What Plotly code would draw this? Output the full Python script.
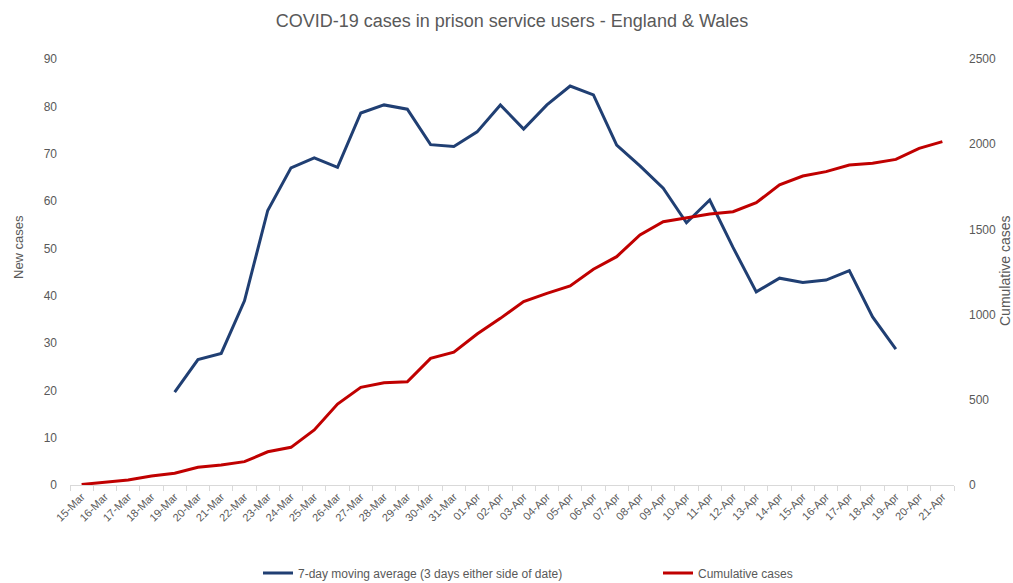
import plotly.graph_objects as go

dates = ["15-Mar", "16-Mar", "17-Mar", "18-Mar", "19-Mar", "20-Mar", "21-Mar", "22-Mar", "23-Mar",
         "24-Mar", "25-Mar", "26-Mar", "27-Mar", "28-Mar", "29-Mar", "30-Mar", "31-Mar",
         "01-Apr", "02-Apr", "03-Apr", "04-Apr", "05-Apr", "06-Apr", "07-Apr", "08-Apr", "09-Apr",
         "10-Apr", "11-Apr", "12-Apr", "13-Apr", "14-Apr", "15-Apr", "16-Apr", "17-Apr", "18-Apr",
         "19-Apr", "20-Apr", "21-Apr"]

moving_avg = [None, None, None, None, 19.6, 26.5, 27.8, 38.9, 58.0, 67.0, 69.1, 67.1, 78.6, 80.3,
              79.4, 71.9, 71.5, 74.6, 80.3, 75.2, 80.3, 84.3, 82.4, 71.8, 67.4, 62.7, 55.4, 60.2,
              50.2, 40.8, 43.7, 42.8, 43.3, 45.3, 35.5, 28.7, None, None]

cumulative = [3, 15, 30, 53, 69, 104, 117, 137, 195, 221, 323, 475, 573, 600, 606, 743, 780, 886,
              978, 1076, 1125, 1168, 1266, 1340, 1467, 1545, 1569, 1590, 1604, 1657, 1761, 1813,
              1839, 1878, 1888, 1911, 1976, 2015]

grey = "#595959"
font_family = "Liberation Sans, Arial, sans-serif"
W, H = 1013, 583

fig = go.Figure()
fig.add_trace(go.Scatter(
    x=dates, y=moving_avg, mode="lines", name="7-day moving average (3 days either side of date)",
    line=dict(color="#203F73", width=3), yaxis="y", connectgaps=False, legend="legend"))
fig.add_trace(go.Scatter(
    x=dates, y=cumulative, mode="lines", name="Cumulative cases",
    line=dict(color="#C00000", width=3), yaxis="y2", legend="legend2"))

legend_y = 1 - 573 / H
fig.update_layout(
    width=W, height=H,
    margin=dict(l=70, r=59, t=59, b=98, autoexpand=False),
    paper_bgcolor="white", plot_bgcolor="white",
    font=dict(family=font_family, color=grey, size=11),
    title=dict(text="COVID-19 cases in prison service users - England & Wales",
               x=0.5, xref="paper", xanchor="center", y=1 - 21 / H, yanchor="middle",
               font=dict(size=18, color=grey)),
    xaxis=dict(type="category", range=[-0.5, len(dates) - 0.5], tickangle=-45, showgrid=False,
               showline=True, linecolor="#D9D9D9", linewidth=1, ticks="outside",
               tickson="boundaries", tickcolor="#D9D9D9", ticklen=5, automargin=False,
               tickfont=dict(size=11, color=grey)),
    yaxis=dict(range=[0, 90], dtick=10, showgrid=False, showline=False, zeroline=False,
               tickfont=dict(size=12, color=grey), ticks="", ticklabelstandoff=12,
               automargin=False),
    yaxis2=dict(range=[0, 2500], dtick=500, overlaying="y", side="right", showgrid=False,
                showline=False, zeroline=False, automargin=False,
                tickfont=dict(size=12, color=grey), ticklabelstandoff=14),
    legend=dict(orientation="h", yref="container", y=legend_y, yanchor="middle",
                xref="container", x=258 / W, xanchor="left",
                font=dict(size=12, color=grey)),
    legend2=dict(orientation="h", yref="container", y=legend_y, yanchor="middle",
                 xref="container", x=658 / W, xanchor="left",
                 font=dict(size=12, color=grey)),
    showlegend=True,
)

fig.add_annotation(text="New cases", xref="paper", yref="paper",
                   x=(18 - 70) / (W - 70 - 59), y=(485 - 247) / (485 - 59),
                   xanchor="center", yanchor="middle", textangle=-90, showarrow=False,
                   font=dict(size=13, color=grey))
fig.add_annotation(text="Cumulative cases", xref="paper", yref="paper",
                   x=(1005 - 70) / (W - 70 - 59), y=(485 - 271) / (485 - 59),
                   xanchor="center", yanchor="middle", textangle=-90, showarrow=False,
                   font=dict(size=14, color=grey))

fig.write_html("out.html")
